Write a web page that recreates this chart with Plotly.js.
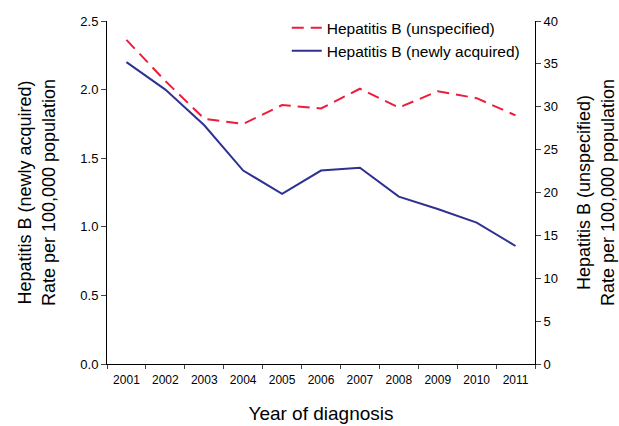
<!DOCTYPE html>
<html>
<head>
<meta charset="utf-8">
<script src="https://cdn.plot.ly/plotly-3.0.1.min.js"></script>
<style>html,body{margin:0;padding:0;background:#fff;}#chart{width:619px;height:426px;}</style>
</head>
<body>
<div id="chart"></div>
<script>
const years = ['2001','2002','2003','2004','2005','2006','2007','2008','2009','2010','2011'];
const unspecified = [37.8, 33.0, 28.6, 28.0, 30.2, 29.8, 32.1, 29.9, 31.8, 31.0, 29.0];
const newlyAcquired = [2.20, 2.00, 1.74, 1.41, 1.24, 1.41, 1.43, 1.22, 1.13, 1.03, 0.86];

const font = 'Liberation Sans, Arial, sans-serif';
const traces = [
  {x: years, y: unspecified, yaxis: 'y2', type: 'scatter', mode: 'lines',
   name: 'Hepatitis B (unspecified)', line: {color: '#ED1C3A', width: 2, dash: '12px,7px'}},
  {x: years, y: newlyAcquired, yaxis: 'y', type: 'scatter', mode: 'lines',
   name: 'Hepatitis B (newly acquired)', line: {color: '#2E3192', width: 2}}
];
const layout = {
  width: 619, height: 426,
  margin: {l: 107, r: 84, t: 21, b: 62, autoexpand: false},
  paper_bgcolor: '#fff', plot_bgcolor: '#fff',
  font: {family: font, color: '#000'},
  showlegend: true,
  legend: {x: 0.42, y: 1.029, xanchor: 'left', yanchor: 'top', bgcolor: 'rgba(0,0,0,0)',
           font: {size: 15.5, family: font}, tracegroupgap: 0},
  xaxis: {type: 'category', range: [-0.5, 10.5], tickson: 'boundaries', ticks: 'outside', ticklen: 4,
          showline: true, linecolor: '#000', linewidth: 1, showgrid: false, zeroline: false,
          tickfont: {size: 12}, ticklabelstandoff: 5,
          title: {text: 'Year of diagnosis', font: {size: 19}, standoff: 20}},
  yaxis: {range: [0, 2.5], dtick: 0.5, tickformat: '.1f', ticks: 'outside', ticklen: 5,
          showline: true, linecolor: '#000', linewidth: 1, showgrid: false, zeroline: false,
          tickfont: {size: 13},
          title: {text: 'Hepatitis B (newly acquired)<br>Rate per 100,000 population', font: {size: 18}, standoff: 20}},
  yaxis2: {range: [0, 40], dtick: 5, overlaying: 'y', side: 'right', ticks: 'outside', ticklen: 5,
           showline: true, linecolor: '#000', linewidth: 1, showgrid: false, zeroline: false,
           tickfont: {size: 13},
           title: {text: 'Hepatitis B (unspecified)<br>Rate per 100,000 population', font: {size: 18}, standoff: 20}}
};
Plotly.newPlot('chart', traces, layout, {displayModeBar: false, staticPlot: true});
</script>
</body>
</html>
